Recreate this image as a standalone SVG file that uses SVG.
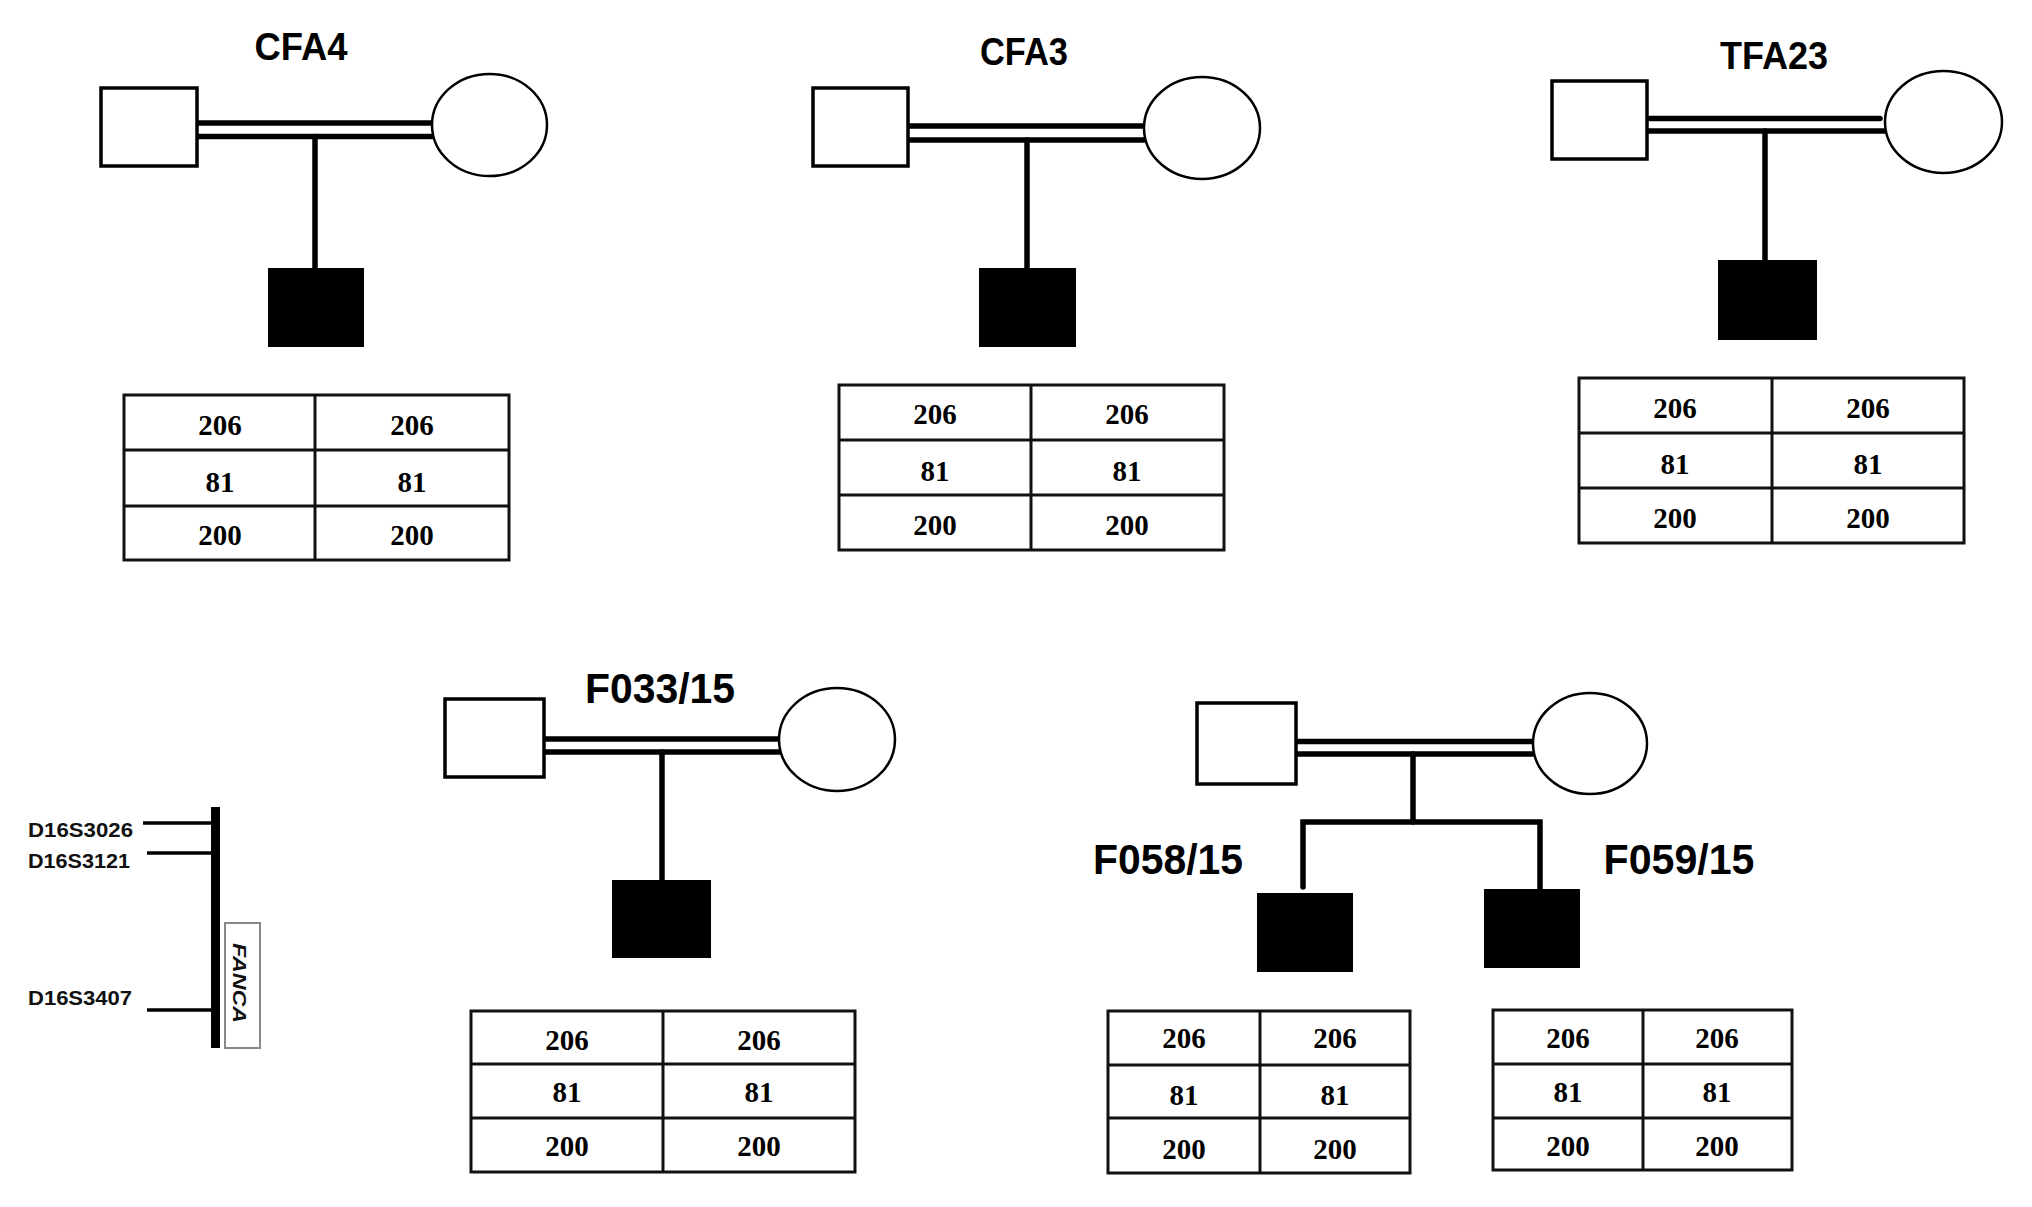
<svg xmlns="http://www.w3.org/2000/svg" width="2032" height="1207" viewBox="0 0 2032 1207">
<style>
.title{font-family:"Liberation Sans",Arial,sans-serif;font-weight:bold;font-size:38px;fill:#000;text-anchor:middle}
.big{font-size:42px}
.cell{font-family:"Liberation Serif","Times New Roman",serif;font-weight:bold;font-size:29px;fill:#000;text-anchor:middle}
.tbl{fill:none;stroke:#111;stroke-width:3}
.male{fill:#fff;stroke:#000;stroke-width:3.5}
.female{fill:#fff;stroke:#000;stroke-width:2.5}
.aff{fill:#000;stroke:none}
.line{stroke:#000;stroke-width:5.5;fill:none;stroke-linecap:round}
.mk{font-family:"Liberation Sans",Arial,sans-serif;font-weight:bold;font-size:21px;fill:#111}
</style>
<rect width="2032" height="1207" fill="#fff"/>

<g id="connectors">
  <!-- CFA4 -->
  <line class="line" x1="197" y1="123" x2="432" y2="123"/>
  <line class="line" x1="197" y1="136.5" x2="432" y2="136.5"/>
  <line class="line" x1="315" y1="136.5" x2="315" y2="268"/>
  <!-- CFA3 -->
  <line class="line" x1="908" y1="126" x2="1144" y2="126"/>
  <line class="line" x1="908" y1="140" x2="1144" y2="140"/>
  <line class="line" x1="1027" y1="140" x2="1027" y2="268"/>
  <!-- TFA23 -->
  <line class="line" x1="1647" y1="118.5" x2="1880" y2="118.5"/>
  <line class="line" x1="1647" y1="131" x2="1885" y2="131"/>
  <line class="line" x1="1765" y1="131" x2="1765" y2="260"/>
  <!-- F033/15 -->
  <line class="line" x1="544" y1="739" x2="779" y2="739"/>
  <line class="line" x1="544" y1="752" x2="779" y2="752"/>
  <line class="line" x1="662" y1="752" x2="662" y2="880"/>
  <!-- F058/F059 -->
  <line class="line" x1="1296" y1="741.5" x2="1533" y2="741.5"/>
  <line class="line" x1="1296" y1="754" x2="1533" y2="754"/>
  <line class="line" x1="1413" y1="754" x2="1413" y2="822"/>
  <polyline class="line" points="1303,887 1303,822 1540,822 1540,889"/>
</g>

<!-- CFA4 -->
<g id="CFA4">
  <text class="title" x="301" y="60" textLength="93" lengthAdjust="spacingAndGlyphs">CFA4</text>
  <rect class="male" x="101" y="88" width="96" height="78"/>
  <ellipse class="female" cx="489.5" cy="125" rx="57.5" ry="51"/>
  <rect class="aff" x="268" y="268" width="96" height="79"/>
  <g id="CFA4-table">
    <rect class="tbl" x="124" y="395" width="385" height="165"/>
    <line class="tbl" x1="315" y1="395" x2="315" y2="560"/>
    <line class="tbl" x1="124" y1="450" x2="509" y2="450"/>
    <line class="tbl" x1="124" y1="506" x2="509" y2="506"/>
    <text class="cell" x="220" y="435">206</text><text class="cell" x="412" y="435">206</text>
    <text class="cell" x="220" y="492">81</text><text class="cell" x="412" y="492">81</text>
    <text class="cell" x="220" y="545">200</text><text class="cell" x="412" y="545">200</text>
  </g>
</g>

<!-- CFA3 -->
<g id="CFA3">
  <text class="title" x="1024" y="65" textLength="88" lengthAdjust="spacingAndGlyphs">CFA3</text>
  <rect class="male" x="813" y="88" width="95" height="78"/>
  <ellipse class="female" cx="1202" cy="128" rx="58" ry="51"/>
  <rect class="aff" x="979" y="268" width="97" height="79"/>
  <g id="CFA3-table">
    <rect class="tbl" x="839" y="385" width="385" height="165"/>
    <line class="tbl" x1="1031" y1="385" x2="1031" y2="550"/>
    <line class="tbl" x1="839" y1="440" x2="1224" y2="440"/>
    <line class="tbl" x1="839" y1="495" x2="1224" y2="495"/>
    <text class="cell" x="935" y="424">206</text><text class="cell" x="1127" y="424">206</text>
    <text class="cell" x="935" y="481">81</text><text class="cell" x="1127" y="481">81</text>
    <text class="cell" x="935" y="535">200</text><text class="cell" x="1127" y="535">200</text>
  </g>
</g>

<!-- TFA23 -->
<g id="TFA23">
  <text class="title" x="1774" y="69" textLength="108" lengthAdjust="spacingAndGlyphs">TFA23</text>
  <rect class="male" x="1552" y="81" width="95" height="78"/>
  <ellipse class="female" cx="1943.5" cy="122" rx="58.5" ry="51"/>
  <rect class="aff" x="1718" y="260" width="99" height="80"/>
  <g id="TFA23-table">
    <rect class="tbl" x="1579" y="378" width="385" height="165"/>
    <line class="tbl" x1="1772" y1="378" x2="1772" y2="543"/>
    <line class="tbl" x1="1579" y1="433" x2="1964" y2="433"/>
    <line class="tbl" x1="1579" y1="488" x2="1964" y2="488"/>
    <text class="cell" x="1675" y="418">206</text><text class="cell" x="1868" y="418">206</text>
    <text class="cell" x="1675" y="474">81</text><text class="cell" x="1868" y="474">81</text>
    <text class="cell" x="1675" y="528">200</text><text class="cell" x="1868" y="528">200</text>
  </g>
</g>

<!-- Marker legend -->
<g id="legend">
  <rect x="211" y="807" width="9" height="241" fill="#000"/>
  <line x1="143" y1="823" x2="215" y2="823" stroke="#000" stroke-width="3.5"/>
  <line x1="147" y1="853" x2="215" y2="853" stroke="#000" stroke-width="3.5"/>
  <line x1="147" y1="1010" x2="215" y2="1010" stroke="#000" stroke-width="3.5"/>
  <text class="mk" x="28" y="837" textLength="105" lengthAdjust="spacingAndGlyphs">D16S3026</text>
  <text class="mk" x="28" y="868" textLength="102" lengthAdjust="spacingAndGlyphs">D16S3121</text>
  <text class="mk" x="28" y="1005" textLength="104" lengthAdjust="spacingAndGlyphs">D16S3407</text>
  <rect x="225" y="923" width="35" height="125" fill="#fff" stroke="#888" stroke-width="2"/>
  <text transform="translate(240,983) rotate(90)" text-anchor="middle" dy="7" font-family="Liberation Sans, Arial, sans-serif" font-style="italic" font-weight="bold" font-size="19" fill="#111" textLength="80" lengthAdjust="spacingAndGlyphs">FANCA</text>
</g>

<!-- F033/15 -->
<g id="F033-15">
  <text class="title big" x="660" y="703" textLength="150" lengthAdjust="spacingAndGlyphs">F033/15</text>
  <rect class="male" x="445" y="699" width="99" height="78"/>
  <ellipse class="female" cx="837" cy="739.5" rx="58" ry="51.5"/>
  <rect class="aff" x="612" y="880" width="99" height="78"/>
  <g id="F033-table">
    <rect class="tbl" x="471" y="1011" width="384" height="161"/>
    <line class="tbl" x1="663" y1="1011" x2="663" y2="1172"/>
    <line class="tbl" x1="471" y1="1064" x2="855" y2="1064"/>
    <line class="tbl" x1="471" y1="1118" x2="855" y2="1118"/>
    <text class="cell" x="567" y="1050">206</text><text class="cell" x="759" y="1050">206</text>
    <text class="cell" x="567" y="1102">81</text><text class="cell" x="759" y="1102">81</text>
    <text class="cell" x="567" y="1156">200</text><text class="cell" x="759" y="1156">200</text>
  </g>
</g>

<!-- F058/15 and F059/15 family -->
<g id="F058-F059-parents">
  <rect class="male" x="1197" y="703" width="99" height="81"/>
  <ellipse class="female" cx="1590" cy="743.5" rx="57" ry="50.5"/>
</g>
<g id="F058-15">
  <text class="title big" x="1168" y="874" textLength="150" lengthAdjust="spacingAndGlyphs">F058/15</text>
  <rect class="aff" x="1257" y="893" width="96" height="79"/>
  <g id="F058-table">
    <rect class="tbl" x="1108" y="1011" width="302" height="162"/>
    <line class="tbl" x1="1260" y1="1011" x2="1260" y2="1173"/>
    <line class="tbl" x1="1108" y1="1065" x2="1410" y2="1065"/>
    <line class="tbl" x1="1108" y1="1118" x2="1410" y2="1118"/>
    <text class="cell" x="1184" y="1048">206</text><text class="cell" x="1335" y="1048">206</text>
    <text class="cell" x="1184" y="1105">81</text><text class="cell" x="1335" y="1105">81</text>
    <text class="cell" x="1184" y="1159">200</text><text class="cell" x="1335" y="1159">200</text>
  </g>
</g>
<g id="F059-15">
  <text class="title big" x="1679" y="874" textLength="151" lengthAdjust="spacingAndGlyphs">F059/15</text>
  <rect class="aff" x="1484" y="889" width="96" height="79"/>
  <g id="F059-table">
    <rect class="tbl" x="1493" y="1010" width="299" height="160"/>
    <line class="tbl" x1="1643" y1="1010" x2="1643" y2="1170"/>
    <line class="tbl" x1="1493" y1="1064" x2="1792" y2="1064"/>
    <line class="tbl" x1="1493" y1="1118" x2="1792" y2="1118"/>
    <text class="cell" x="1568" y="1048">206</text><text class="cell" x="1717" y="1048">206</text>
    <text class="cell" x="1568" y="1102">81</text><text class="cell" x="1717" y="1102">81</text>
    <text class="cell" x="1568" y="1156">200</text><text class="cell" x="1717" y="1156">200</text>
  </g>
</g>
</svg>
